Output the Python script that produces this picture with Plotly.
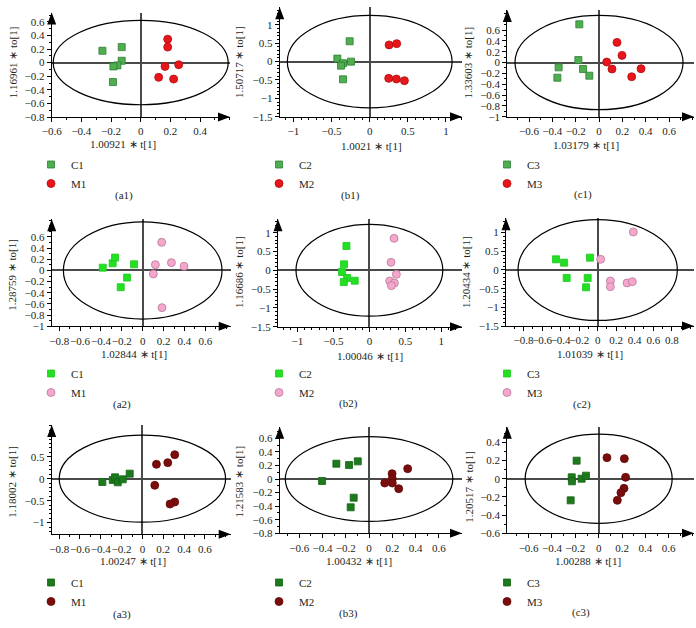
import plotly.graph_objects as go

W, H = 696, 628

# ---------------- data ----------------
panels = ["a1", "b1", "c1", "a2", "b2", "c2", "a3", "b3", "c3"]
ctrl_names = ["C1", "C2", "C3", "C1", "C2", "C3", "C1", "C2", "C3"]
model_names = ["M1", "M2", "M3", "M1", "M2", "M3", "M1", "M2", "M3"]
x_scale = ["1.00921", "1.0021", "1.03179", "1.02844", "1.00046", "1.01039", "1.00247", "1.00432", "1.00288"]
y_scale = ["1.16961", "1.50717", "1.33603", "1.28759", "1.16686", "1.20434", "1.18002", "1.21583", "1.20517"]

a1_ctrl_t = [-0.258, -0.128, -0.128, -0.157, -0.184, -0.187]
a1_ctrl_to = [0.174, 0.228, 0.027, -0.041, -0.056, -0.286]
a1_model_t = [0.182, 0.182, 0.256, 0.164, 0.121, 0.222]
a1_model_to = [0.345, 0.228, -0.031, -0.056, -0.217, -0.242]

b1_ctrl_t = [-0.263, -0.424, -0.35, -0.376, -0.245, -0.35]
b1_ctrl_to = [0.555, 0.082, -0.045, -0.109, 0.0, -0.482]
b1_model_t = [0.254, 0.354, 0.249, 0.35, 0.455]
b1_model_to = [0.455, 0.49, -0.455, -0.473, -0.518]

c1_ctrl_t = [-0.169, -0.177, -0.346, -0.357, -0.137, -0.083]
c1_ctrl_to = [0.705, 0.046, -0.089, -0.28, -0.12, -0.243]
c1_model_t = [0.154, 0.197, 0.066, 0.111, 0.36, 0.28]
c1_model_to = [0.372, 0.132, 0.009, -0.12, -0.114, -0.262]

a2_ctrl_t = [-0.383, -0.288, -0.265, -0.083, -0.150, -0.211]
a2_ctrl_to = [0.05, 0.128, 0.23, 0.11, -0.128, -0.3]
a2_model_t = [0.182, 0.121, 0.275, 0.396, 0.102, 0.185]
a2_model_to = [0.504, 0.104, 0.14, 0.075, -0.063, -0.666]

b2_ctrl_t = [-0.319, -0.352, -0.38, -0.31, -0.204, -0.356]
b2_ctrl_to = [0.645, 0.158, -0.046, -0.206, -0.277, -0.312]
b2_model_t = [0.343, 0.301, 0.375, 0.282, 0.347, 0.306]
b2_model_to = [0.85, 0.211, -0.108, -0.285, -0.339, -0.41]

c2_ctrl_t = [-0.45, -0.363, -0.083, -0.335, -0.108, -0.126]
c2_ctrl_to = [0.286, 0.196, 0.33, -0.214, -0.214, -0.464]
c2_model_t = [0.385, 0.032, 0.137, 0.137, 0.317, 0.374]
c2_model_to = [1.018, 0.286, -0.295, -0.446, -0.348, -0.313]

a3_ctrl_t = [-0.385, -0.285, -0.263, -0.237, -0.189, -0.122]
a3_ctrl_to = [-0.076, -0.03, 0.03, -0.083, -0.015, 0.114]
a3_model_t = [0.311, 0.244, 0.135, 0.119, 0.311, 0.266]
a3_model_to = [0.545, 0.364, 0.326, -0.152, -0.53, -0.576]

b3_ctrl_t = [-0.404, -0.281, -0.172, -0.097, -0.132, -0.158]
b3_ctrl_to = [-0.029, 0.226, 0.206, 0.26, -0.275, -0.417]
b3_model_t = [0.135, 0.198, 0.2, 0.2, 0.255, 0.332]
b3_model_to = [-0.059, 0.079, 0.005, -0.059, -0.142, 0.152]

c3_ctrl_t = [-0.189, -0.231, -0.229, -0.146, -0.109, -0.24]
c3_ctrl_to = [0.198, 0.015, -0.029, 0.0, 0.033, -0.238]
c3_model_t = [0.071, 0.22, 0.231, 0.217, 0.191, 0.16]
c3_model_to = [0.231, 0.22, 0.015, -0.106, -0.154, -0.238]

# Hotelling T2 ellipse semi-axes (t, to)
ellipse_t = [0.59, 1.08, 0.72, 0.76, 1.02, 0.86, 0.80, 0.72, 0.63]
ellipse_to = [0.62, 1.26, 0.87, 0.87, 1.22, 1.35, 0.99, 0.625, 0.49]

x_ticks = [
    [-0.6, -0.4, -0.2, 0, 0.2, 0.4],
    [-1, -0.5, 0, 0.5, 1],
    [-0.8, -0.6, -0.4, -0.2, 0, 0.2, 0.4, 0.6],
    [-0.8, -0.6, -0.4, -0.2, 0, 0.2, 0.4, 0.6],
    [-1, -0.5, 0, 0.5, 1],
    [-1, -0.8, -0.6, -0.4, -0.2, 0, 0.2, 0.4, 0.6, 0.8],
    [-0.8, -0.6, -0.4, -0.2, 0, 0.2, 0.4, 0.6],
    [-0.8, -0.6, -0.4, -0.2, 0, 0.2, 0.4, 0.6],
    [-0.8, -0.6, -0.4, -0.2, 0, 0.2, 0.4, 0.6],
]
y_ticks = [
    [-0.8, -0.6, -0.4, -0.2, 0, 0.2, 0.4, 0.6],
    [-1.5, -1, -0.5, 0, 0.5, 1],
    [-1, -0.8, -0.6, -0.4, -0.2, 0, 0.2, 0.4, 0.6],
    [-1, -0.8, -0.6, -0.4, -0.2, 0, 0.2, 0.4, 0.6],
    [-1.5, -1, -0.5, 0, 0.5, 1],
    [-1.5, -1, -0.5, 0, 0.5, 1],
    [-1, -0.5, 0, 0.5],
    [-0.8, -0.6, -0.4, -0.2, 0, 0.2, 0.4, 0.6],
    [-0.6, -0.4, -0.2, 0, 0.2, 0.4],
]

ctrl_t = [a1_ctrl_t, b1_ctrl_t, c1_ctrl_t, a2_ctrl_t, b2_ctrl_t, c2_ctrl_t, a3_ctrl_t, b3_ctrl_t, c3_ctrl_t]
ctrl_to = [a1_ctrl_to, b1_ctrl_to, c1_ctrl_to, a2_ctrl_to, b2_ctrl_to, c2_ctrl_to, a3_ctrl_to, b3_ctrl_to, c3_ctrl_to]
model_t = [a1_model_t, b1_model_t, c1_model_t, a2_model_t, b2_model_t, c2_model_t, a3_model_t, b3_model_t, c3_model_t]
model_to = [a1_model_to, b1_model_to, c1_model_to, a2_model_to, b2_model_to, c2_model_to, a3_model_to, b3_model_to, c3_model_to]

# ---------------- layout / style ----------------
# plot-area pixel boxes: (left, right, top, bottom)
boxes = [
    (51.7, 230, 12.5, 117), (279.7, 462, 7.3, 116.7), (507.3, 694, 10, 116.7),
    (51.7, 230.7, 219.3, 326.3), (278, 462, 219.3, 326.7), (506, 694, 218.3, 326),
    (51.7, 230.7, 425, 534.3), (279.7, 462, 426.7, 533.3), (507.3, 694, 426.7, 533.3),
]
x_ranges = [[-0.6, 0.602], [-1.18, 1.21], [-0.786, 0.814], [-0.872, 0.843], [-1.27, 1.287],
            [-0.99, 1.04], [-0.872, 0.849], [-0.768, 0.799], [-0.783, 0.817]]
y_ranges = [[-0.8, 0.737], [-1.5, 1.48], [-1.0, 0.97], [-1.0, 0.916], [-1.5, 1.355],
            [-1.5, 1.384], [-1.265, 1.22], [-0.8, 0.771], [-0.6, 0.571]]
xtitle_pos = [(123, 144), (371, 145.7), (586, 145), (134, 354), (370, 355.7), (589.7, 354),
              (133, 561), (359.3, 560.7), (587.7, 560.7)]
ytitle_pos = [(13.3, 62), (239, 62), (467.5, 63), (11.7, 275), (239, 272), (466, 272),
              (11.7, 482), (238.7, 481.7), (469, 486.7)]
caption_pos = [(124, 195), (350, 195), (583, 194.3), (121.7, 404), (348.7, 403.3), (582, 404),
               (121.7, 614), (348.7, 613.3), (580.7, 612.7)]
legend_pos = [(31, 150), (259, 150), (487, 150), (31, 359), (259, 359), (487, 359),
              (31, 568), (259, 568), (487, 568)]

row_styles = [
    dict(c_fill="#4fae4f", c_line="#2e7d32", m_fill="#e8161b", m_line="#b00c10"),
    dict(c_fill="#22e022", c_line="#1fc81f", m_fill="#f4a7cb", m_line="#b8789a"),
    dict(c_fill="#1c7a1c", c_line="#146314", m_fill="#7a0c0c", m_line="#5e0808"),
]

FONT = "Liberation Serif"
TXT = "#231f20"


def px(x):
    return x / W


def py(y):
    return 1 - y / H


fig = go.Figure()
layout = dict(
    template="none",
    width=W, height=H, margin=dict(l=0, r=0, t=0, b=0, autoexpand=False),
    paper_bgcolor="white", plot_bgcolor="white",
    font=dict(family=FONT, size=11, color=TXT),
    showlegend=True,
)
shapes = []
annotations = []

for i in range(9):
    n = i + 1
    sfx = "" if n == 1 else str(n)
    st = row_styles[i // 3]
    leg = "legend" if n == 1 else f"legend{n}"
    xa, ya = f"x{sfx}", f"y{sfx}"

    fig.add_trace(go.Scatter(
        x=ctrl_t[i], y=ctrl_to[i], mode="markers", name=ctrl_names[i],
        marker=dict(symbol="square", size=7, color=st["c_fill"], line=dict(color=st["c_line"], width=0.8)),
        xaxis=xa, yaxis=ya, legend=leg,
    ))
    fig.add_trace(go.Scatter(
        x=model_t[i], y=model_to[i], mode="markers", name=model_names[i],
        marker=dict(symbol="circle", size=8, color=st["m_fill"], line=dict(color=st["m_line"], width=0.8)),
        xaxis=xa, yaxis=ya, legend=leg,
    ))

    l, r, t, b = boxes[i]
    common = dict(
        automargin=False,
        showline=True, linecolor="black", linewidth=1,
        ticks="outside", ticklen=4, tickwidth=1, tickcolor="black",
        showgrid=False, zeroline=True, zerolinecolor="#4a4a4a", zerolinewidth=1.5,
        tickfont=dict(family=FONT, size=11, color=TXT),
        tickangle=0,
        tickmode="array",
        minor=dict(ticks="outside", ticklen=2, tickwidth=1, tickcolor="black",
                   tickmode="linear", tick0=0, dtick=0.1, showgrid=False),
        fixedrange=True,
    )
    layout[f"xaxis{sfx}"] = dict(common, domain=[px(l), px(r)], range=x_ranges[i],
                                 tickvals=x_ticks[i], anchor=ya)
    layout[f"yaxis{sfx}"] = dict(common, domain=[py(b), py(t)], range=y_ranges[i],
                                 tickvals=y_ticks[i], anchor=xa)

    # confidence ellipse
    shapes.append(dict(type="circle", xref=xa, yref=ya,
                       x0=-ellipse_t[i], x1=ellipse_t[i], y0=-ellipse_to[i], y1=ellipse_to[i],
                       line=dict(color="black", width=1.2), layer="above"))
    # axis arrows
    shapes.append(dict(type="path", xref=f"{xa} domain", yref=f"{ya} domain",
                       xsizemode="pixel", ysizemode="pixel", xanchor=1, yanchor=0,
                       path="M -12,-4.5 L 0,0 L -12,4.5 Z", fillcolor="black",
                       line=dict(width=0)))
    shapes.append(dict(type="path", xref=f"{xa} domain", yref=f"{ya} domain",
                       xsizemode="pixel", ysizemode="pixel", xanchor=0, yanchor=1,
                       path="M -4.5,-12 L 0,0 L 4.5,-12 Z", fillcolor="black",
                       line=dict(width=0)))

    xtx, xty = xtitle_pos[i]
    annotations.append(dict(text=f"{x_scale[i]} ∗ t[1]", x=px(xtx), y=py(xty), xref="paper", yref="paper",
                            showarrow=False, xanchor="center", yanchor="middle",
                            font=dict(family=FONT, size=11, color=TXT)))
    ytx, yty = ytitle_pos[i]
    annotations.append(dict(text=f"{y_scale[i]} ∗ to[1]", x=px(ytx), y=py(yty), xref="paper", yref="paper",
                            showarrow=False, xanchor="center", yanchor="middle", textangle=-90,
                            font=dict(family=FONT, size=11, color=TXT)))
    cx, cy = caption_pos[i]
    annotations.append(dict(text=f"({panels[i]})", x=px(cx), y=py(cy), xref="paper", yref="paper",
                            showarrow=False, xanchor="center", yanchor="middle",
                            font=dict(family=FONT, size=11, color=TXT)))

    lx, ly = legend_pos[i]
    layout[leg] = dict(x=px(lx), y=py(ly), xanchor="left", yanchor="top",
                       bgcolor="rgba(0,0,0,0)", borderwidth=0,
                       font=dict(family=FONT, size=11, color=TXT),
                       itemclick=False, itemdoubleclick=False)

layout["shapes"] = shapes
layout["annotations"] = annotations
fig.update_layout(**layout)

fig.write_html("out.html", config={"displayModeBar": False},
               post_script="document.body.style.margin='0';document.body.style.padding='0';")
